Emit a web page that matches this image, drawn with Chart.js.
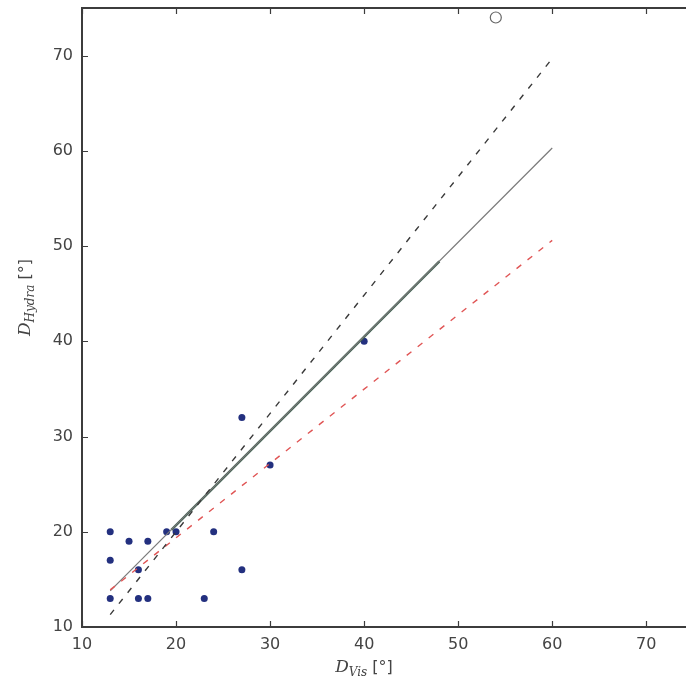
<!DOCTYPE html>
<html>
<head>
<meta charset="utf-8">
<script src="https://cdn.jsdelivr.net/npm/chart.js@4"></script>
<style>
  html, body { margin: 0; padding: 0; background: #fff; overflow: hidden; }
  #wrap { width: 700px; height: 688px; }
</style>
</head>
<body>
<div id="wrap"><canvas id="c" width="700" height="688"></canvas></div>
<script>
// observed points
const visData   = [13, 13, 13, 15, 16, 16, 17, 17, 19, 20, 23, 24, 27, 27, 30, 40];
const hydraData = [20, 17, 13, 19, 16, 13, 19, 13, 20, 20, 13, 20, 32, 16, 27, 40];
// outlier (open circle)
const outlierVis   = [54];
const outlierHydra = [74];
// fit lines
const fitX = [13, 60];
const fitY = [13.8, 60.3];
const fitMidX = [19.5, 48];
const fitMidY = [20.2, 48.4];
const upperX = [13, 60];
const upperY = [11.3, 69.7];
const lowerX = [13, 60];
const lowerY = [13.9, 50.6];
// ticks
const xTicks = [10, 20, 30, 40, 50, 60, 70];
const yTicks = [10, 20, 30, 40, 50, 60, 70];

const pts = (xs, ys) => xs.map((x, i) => ({ x: x, y: ys[i] }));

const axisColor = '#3c3c3c';
const tickFont = { family: 'DejaVu Sans', size: 16 };

// inward ticks, top spine and math-style axis titles
const decor = {
  id: 'decor',
  afterDraw(chart) {
    const ctx = chart.ctx;
    const a = chart.chartArea;
    const xs = chart.scales.x, ys = chart.scales.y;
    ctx.save();
    ctx.strokeStyle = axisColor;
    ctx.lineWidth = 1.2;
    ctx.beginPath();
    xTicks.forEach(v => {
      const px = Math.round(xs.getPixelForValue(v)) + 0.5;
      ctx.moveTo(px, a.bottom); ctx.lineTo(px, a.bottom - 6);
      ctx.moveTo(px, a.top); ctx.lineTo(px, a.top + 6);
    });
    yTicks.forEach(v => {
      const py = Math.round(ys.getPixelForValue(v)) + 0.5;
      ctx.moveTo(a.left, py); ctx.lineTo(a.left + 6, py);
    });
    ctx.stroke();
    // top spine
    ctx.lineWidth = 2;
    ctx.beginPath();
    ctx.moveTo(a.left - 1, a.top); ctx.lineTo(a.right, a.top);
    ctx.stroke();

    // axis titles
    ctx.fillStyle = '#444';
    const drawTitle = (main, sub, rest) => {
      ctx.font = 'italic 17px "DejaVu Serif"';
      const w1 = ctx.measureText(main).width;
      ctx.font = 'italic 12px "DejaVu Serif"';
      const w2 = ctx.measureText(sub).width;
      ctx.font = '16px "DejaVu Sans"';
      const w3 = ctx.measureText(rest).width;
      let x = -(w1 + w2 + w3) / 2;
      ctx.textBaseline = 'middle';
      ctx.textAlign = 'left';
      ctx.font = 'italic 17px "DejaVu Serif"';
      ctx.fillText(main, x, 0); x += w1;
      ctx.font = 'italic 12px "DejaVu Serif"';
      ctx.fillText(sub, x, 5); x += w2;
      ctx.font = '16px "DejaVu Sans"';
      ctx.fillText(rest, x, 0);
    };
    ctx.save();
    ctx.translate((a.left + 686) / 2 - 20, 668);
    drawTitle('D', 'Vis', ' [°]');
    ctx.restore();
    ctx.save();
    ctx.translate(26, (a.top + a.bottom) / 2 - 20);
    ctx.rotate(-Math.PI / 2);
    drawTitle('D', 'Hydra', ' [°]');
    ctx.restore();
    ctx.restore();
  }
};

new Chart(document.getElementById('c').getContext('2d'), {
  type: 'scatter',
  data: {
    datasets: [
      {
        data: pts(upperX, upperY),
        showLine: true, borderColor: '#3a3a3a', borderWidth: 1.4,
        borderDash: [6, 8], pointRadius: 0
      },
      {
        data: pts(lowerX, lowerY),
        showLine: true, borderColor: '#e05555', borderWidth: 1.4,
        borderDash: [6, 8], pointRadius: 0
      },
      {
        data: pts(fitX, fitY),
        showLine: true, borderColor: '#7a7a7a', borderWidth: 1.2,
        pointRadius: 0
      },
      {
        data: pts(fitMidX, fitMidY),
        showLine: true, borderColor: '#3d5e4e', borderWidth: 2.4,
        pointRadius: 0
      },
      {
        data: pts(visData, hydraData),
        pointStyle: 'circle', pointRadius: 3.5,
        backgroundColor: '#23307f', borderColor: '#23307f', borderWidth: 0
      },
      {
        data: pts(outlierVis, outlierHydra),
        pointStyle: 'circle', pointRadius: 5.5,
        backgroundColor: 'rgba(0,0,0,0)', borderColor: '#666', borderWidth: 1.2
      }
    ]
  },
  options: {
    responsive: false,
    animation: false,
    devicePixelRatio: 1,
    layout: { padding: { top: 8, right: 4, left: 0, bottom: 0 } },
    plugins: { legend: { display: false }, tooltip: { enabled: false } },
    scales: {
      x: {
        type: 'linear', min: 10, max: 75,
        afterBuildTicks: s => { s.ticks = xTicks.map(v => ({ value: v })); },
        afterFit: s => { s.height = 61; s.paddingLeft = 0; s.paddingRight = 0; },
        grid: { display: false, drawTicks: false },
        border: { display: true, color: axisColor, width: 2 },
        ticks: { padding: 8, color: '#444', font: tickFont, maxRotation: 0, autoSkip: false }
      },
      y: {
        type: 'linear', min: 10, max: 75,
        afterBuildTicks: s => { s.ticks = yTicks.map(v => ({ value: v })); },
        afterFit: s => { s.width = 82; s.paddingTop = 0; s.paddingBottom = 0; },
        grid: { display: false, drawTicks: false },
        border: { display: true, color: axisColor, width: 2 },
        ticks: { padding: 9, color: '#444', font: tickFont, autoSkip: false }
      }
    }
  },
  plugins: [decor]
});
</script>
</body>
</html>
